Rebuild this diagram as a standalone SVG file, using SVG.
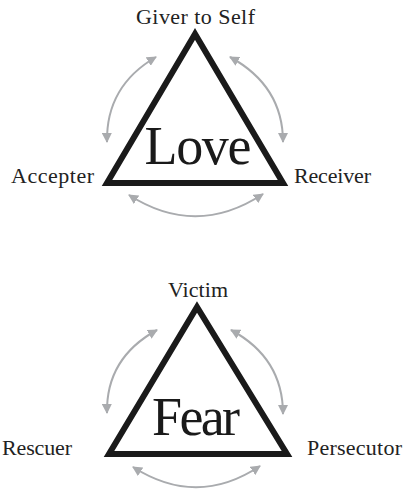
<svg xmlns="http://www.w3.org/2000/svg" width="405" height="492" viewBox="0 0 405 492">
<defs>
<marker id="ah" viewBox="0 0 10 10" refX="9" refY="5" markerWidth="5" markerHeight="5" orient="auto-start-reverse" markerUnits="strokeWidth">
<path d="M0,0 L10,5 L0,10 Z" fill="#a9abae"/>
</marker>
<style>
.tri{fill:none;stroke:#1a1a1a;stroke-width:6;stroke-linejoin:miter}
.arc{fill:none;stroke:#a9abae;stroke-width:2;marker-start:url(#ah);marker-end:url(#ah)}
.lbl{font-family:"Liberation Serif","Times New Roman",serif;font-size:22px;fill:#222}
.big{font-family:"Liberation Serif","Times New Roman",serif;font-size:54px;fill:#1a1a1a;text-anchor:middle}
</style>
</defs>
<rect width="405" height="492" fill="#fff"/>
<g id="connectors">
<path class="arc" d="M107,142 Q106,86 156,57"/>
<path class="arc" d="M230,57 Q283,86 283,142"/>
<path class="arc" d="M129,195 Q196,238 263,194"/>
<path class="arc" d="M107,413 Q106,358 157,330"/>
<path class="arc" d="M231,330 Q283,358 283,414"/>
<path class="arc" d="M133,467 Q197,508 260,466"/>
</g>
<g id="love">
<polygon class="tri" points="195,34 107,183 283,183"/>
<text class="big" x="198" y="164" textLength="107">Love</text>
</g>
<g id="giver"><text class="lbl" x="136" y="24" textLength="119">Giver to Self</text></g>
<g id="accepter"><text class="lbl" x="11" y="183" textLength="83">Accepter</text></g>
<g id="receiver"><text class="lbl" x="294" y="183" textLength="77">Receiver</text></g>
<g id="fear">
<polygon class="tri" points="197,307 109,454 287,454"/>
<text class="big" x="196" y="435" textLength="88">Fear</text>
</g>
<g id="victim"><text class="lbl" x="168" y="297" textLength="60">Victim</text></g>
<g id="rescuer"><text class="lbl" x="2" y="455" textLength="70">Rescuer</text></g>
<g id="persecutor"><text class="lbl" x="307" y="455" textLength="95">Persecutor</text></g>
</svg>
